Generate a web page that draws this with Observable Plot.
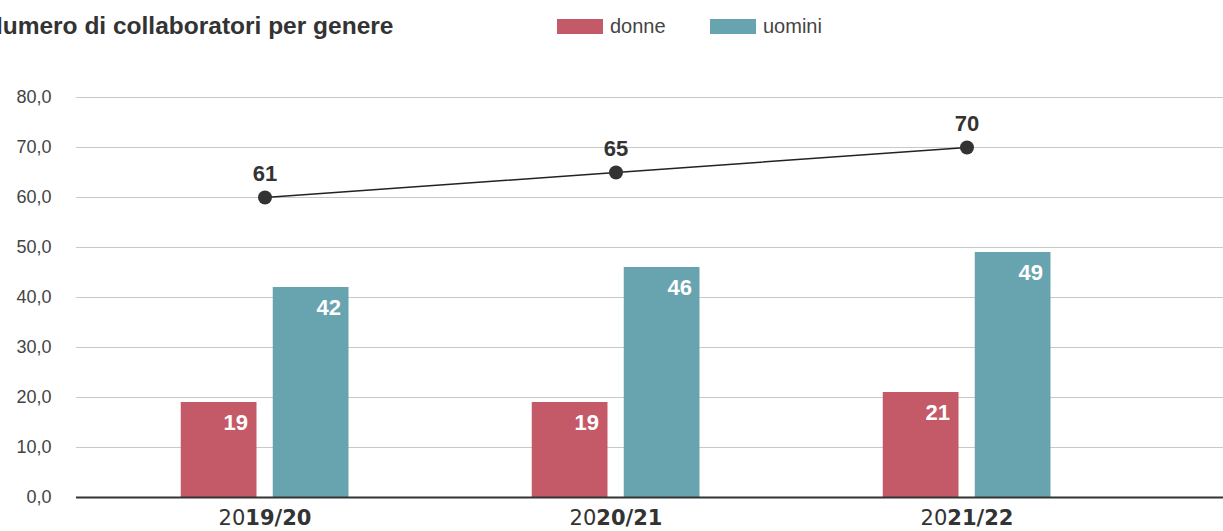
<!DOCTYPE html>
<html>
<head>
<meta charset="utf-8">
<script src="https://cdn.jsdelivr.net/npm/d3@7"></script>
<script src="https://cdn.jsdelivr.net/npm/@observablehq/plot@0.6"></script>
<style>
  body { margin: 0; background: #fff; font-family: "Liberation Sans", Arial, sans-serif; overflow: hidden; }
  #header { position: relative; height: 60px; width: 1223px; }
  #title { position: absolute; left: -15px; top: 12px; font-size: 24.5px; font-weight: bold; color: #333; white-space: nowrap; }
  .leg { position: absolute; top: 15px; display: flex; align-items: center; font-size: 20px; color: #444; }
  .sw { width: 46px; height: 15px; margin-right: 7px; }
</style>
</head>
<body>
<div id="header">
  <div id="title">Numero di collaboratori per genere</div>
  <div class="leg" style="left:557px"><div class="sw" style="background:#c45a67"></div>donne</div>
  <div class="leg" style="left:710px"><div class="sw" style="background:#68a4af"></div>uomini</div>
</div>
<div id="chart"></div>
<script>
const anni = ["2019/20", "2020/21", "2021/22"];
const donne = [19, 19, 21];
const uomini = [42, 46, 49];
const totaleEtichette = [61, 65, 70];
const totalePunti = [60, 65, 70];
const yTicks = [0, 10, 20, 30, 40, 50, 60, 70, 80];

const cDonne = "#c45a67", cUomini = "#68a4af";
const bars = anni.flatMap((a, i) => [
  {anno: a, genere: "donne", v: donne[i]},
  {anno: a, genere: "uomini", v: uomini[i]}
]);
const tot = anni.map((a, i) => ({anno: a, y: totalePunti[i], label: totaleEtichette[i]}));
const fmt = d => d.toFixed(1).replace(".", ",");

const plot = Plot.plot({
  width: 1223,
  height: 471,
  marginTop: 37,
  marginBottom: 34,
  marginLeft: 76,
  marginRight: 0,
  style: {fontFamily: "Liberation Sans, Arial, sans-serif", background: "#fff"},
  x: {domain: anni, range: [88.25, 1142.25], padding: 0},
  y: {domain: [0, 80]},
  marks: [
    Plot.ruleY(yTicks.filter(d => d > 0), {stroke: "#c8c8c8", strokeWidth: 1.2}),
    Plot.axisY(yTicks, {tickSize: 0, tickPadding: 25, tickFormat: fmt, fontSize: 18, fill: "#444", label: null}),
    Plot.barY(bars.filter(d => d.genere === "donne"), {x: "anno", y: "v", fill: cDonne, insetLeft: 91.75, insetRight: 183.5}),
    Plot.barY(bars.filter(d => d.genere === "uomini"), {x: "anno", y: "v", fill: cUomini, insetLeft: 183.75, insetRight: 91.5}),
    Plot.text(bars.filter(d => d.genere === "donne"), {x: "anno", y: "v", text: "v", dx: -17, dy: 20, textAnchor: "end", fill: "#fff", fontWeight: "bold", fontSize: 22}),
    Plot.text(bars.filter(d => d.genere === "uomini"), {x: "anno", y: "v", text: "v", dx: 76, dy: 20, textAnchor: "end", fill: "#fff", fontWeight: "bold", fontSize: 22}),
    Plot.ruleY([0], {stroke: "#333", strokeWidth: 2}),
    Plot.line(tot, {x: "anno", y: "y", stroke: "#222", strokeWidth: 1.5}),
    Plot.dot(tot, {x: "anno", y: "y", r: 7, fill: "#333", stroke: "none"}),
    Plot.text(tot, {x: "anno", y: "y", text: "label", dy: -24, fill: "#333", fontWeight: "bold", fontSize: 22}),
    Plot.axisX({tickSize: 0, tickPadding: 13, fontSize: 21, fill: "#333", label: null, fontFamily: "DejaVu Sans, sans-serif"})
  ]
});
document.getElementById("chart").appendChild(plot);

// mixed-weight x tick labels: "20" regular + "19/20" bold
d3.select(plot).selectAll("g[aria-label='x-axis tick label'] text").each(function() {
  const t = d3.select(this);
  const s = t.text();
  t.text("");
  t.append("tspan").text(s.slice(0, 2));
  t.append("tspan").attr("font-weight", "bold").text(s.slice(2));
});
</script>
</body>
</html>
